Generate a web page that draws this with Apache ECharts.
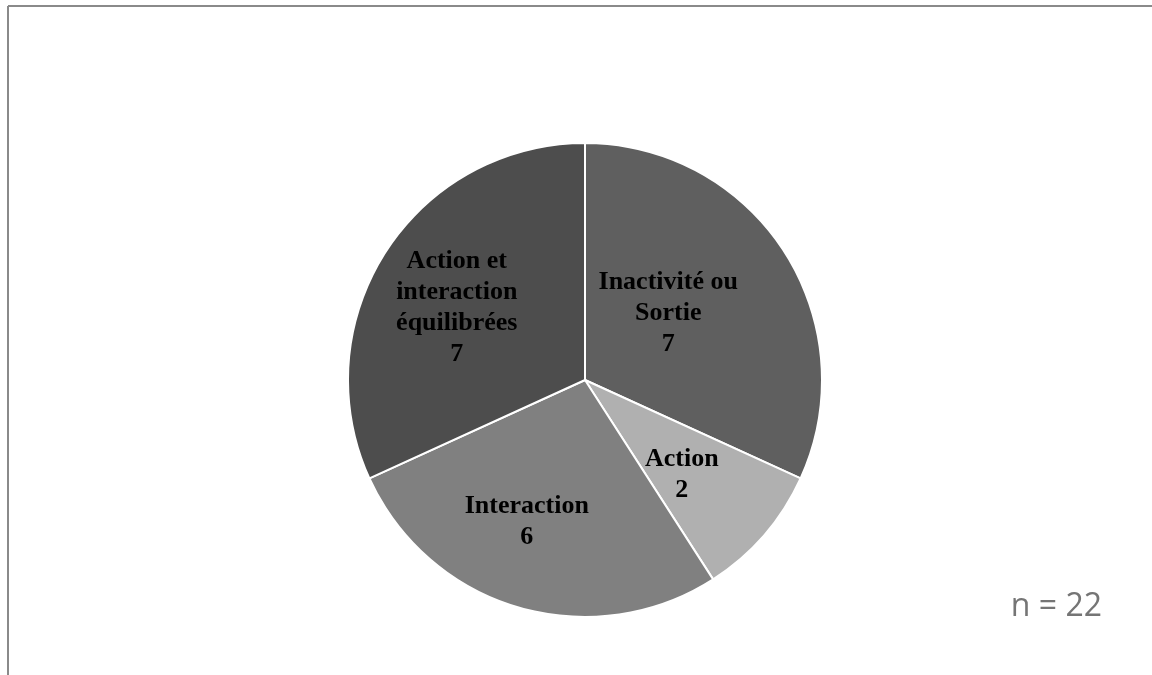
<!DOCTYPE html>
<html>
<head>
<meta charset="utf-8">
<script src="https://cdn.jsdelivr.net/npm/echarts@6/dist/echarts.min.js"></script>
<style>
  html, body { margin: 0; padding: 0; background: #fff; }
  #chart { width: 1152px; height: 675px; }
</style>
</head>
<body>
<div id="chart"></div>
<script>
const categories = ['Inactivité ou\nSortie', 'Action', 'Interaction', 'Action et\ninteraction\néquilibrées'];
const values = [7, 2, 6, 7];
const colors = ['#5f5f5f', '#b0b0b0', '#808080', '#4d4d4d'];
// small nudges so labels sit where the original put them
const labelShift = [[-19, -1], [5, 15], [-24, 25], [-26, -7]];

const chart = echarts.init(document.getElementById('chart'));

chart.setOption({
  animation: false,
  graphic: [
    { type: 'line', shape: { x1: 8, y1: 6, x2: 1152, y2: 6 }, style: { stroke: '#8a8a8a', lineWidth: 2 } },
    { type: 'line', shape: { x1: 8, y1: 6, x2: 8, y2: 675 }, style: { stroke: '#8a8a8a', lineWidth: 2 } },
    {
      type: 'text', right: 50, top: 591,
      style: { text: 'n = 22', font: '32px "Open Sans", sans-serif', fill: '#757575' }
    }
  ],
  series: [{
    type: 'pie',
    center: [585, 380],
    radius: ['0%', 237],
    startAngle: 90,
    clockwise: true,
    itemStyle: { borderColor: '#fff', borderWidth: 2 },
    label: {
      show: true,
      position: 'inside',
      formatter: '{b}\n{c}',
      color: '#000',
      fontFamily: '"Liberation Serif", "Times New Roman", serif',
      fontWeight: 'bold',
      fontSize: 26,
      lineHeight: 31,
      align: 'center'
    },
    labelLayout: (p) => ({ dx: labelShift[p.dataIndex][0], dy: labelShift[p.dataIndex][1] }),
    emphasis: { disabled: true },
    data: categories.map((c, i) => ({ name: c, value: values[i], itemStyle: { color: colors[i] } }))
  }]
});
</script>
</body>
</html>
